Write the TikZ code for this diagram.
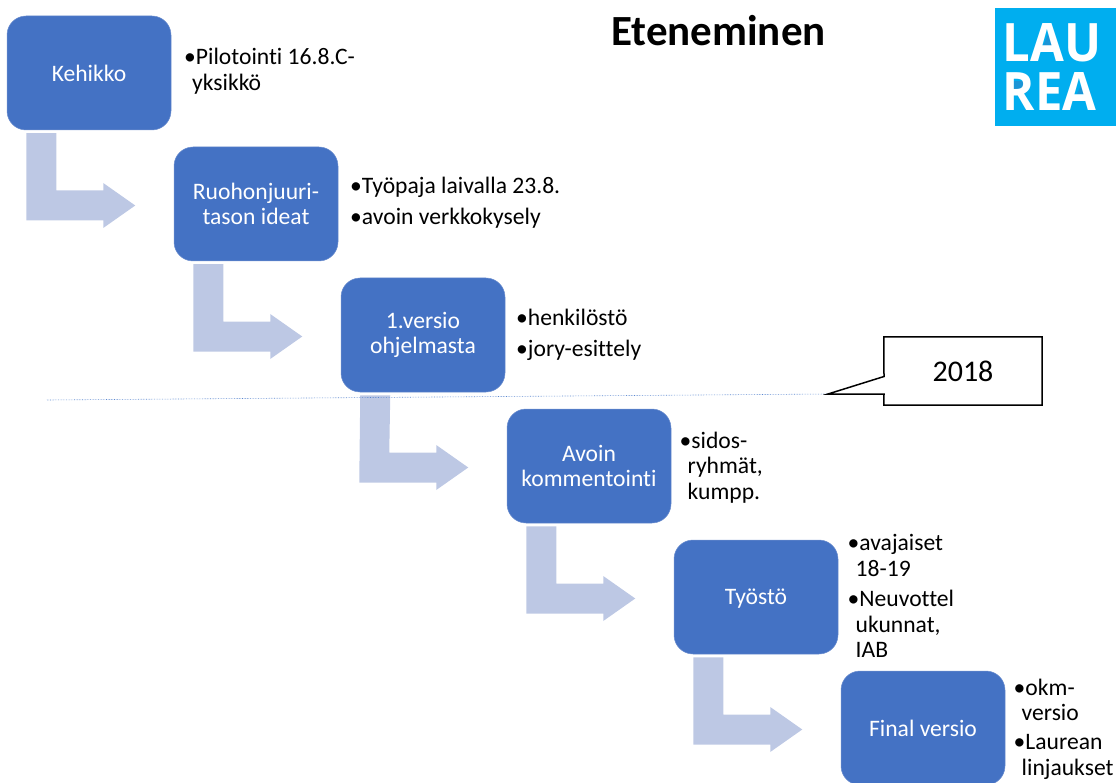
\documentclass[tikz,border=0pt]{standalone}
\usepackage{fontspec}
\setmainfont{Carlito}[Ligatures=NoCommon]
\newfontfamily\logofont{Open Sans}
\definecolor{boxblue}{HTML}{4472C4}
\definecolor{boxedge}{HTML}{6F90CF}
\definecolor{arrowblue}{HTML}{BDC8E4}
\definecolor{laurea}{HTML}{00AEEF}
\definecolor{laureadark}{HTML}{1C95D6}
\definecolor{linecol}{HTML}{5B87D0}
\tikzset{
  stepbox/.style={rectangle,rounded corners=19pt,fill=boxblue,draw=boxedge,line width=0.5pt,minimum width=164pt,minimum height=114pt,inner sep=0pt,text=white,align=center,font=\fontsize{23.6}{25.5}\selectfont},
  note/.style={anchor=north west,inner sep=0pt,align=left,text=black,font=\fontsize{23.6}{25.5}\selectfont},
  bentarrow/.style={fill=arrowblue,draw=none},
  logotext/.style={inner sep=0pt,anchor=base west,text=white,xscale=0.925,font=\fontsize{53}{53}\logofont\bfseries},
  calloutlabel/.style={inner sep=0pt,minimum width=158pt,minimum height=68pt,font=\fontsize{30}{32}\selectfont}
}
\newcommand{\bent}[2]{%
  \fill[bentarrow]
    ([shift={(19.5,3)}]#1.south west) -- ([shift={(49.5,3)}]#1.south west)
    -- ([shift={(-117.5,-13.5)}]#2.west) -- ([shift={(-70.5,-13.5)}]#2.west)
    -- ([shift={(-70.5,-21)}]#2.west) -- ([shift={(-38.5,1.5)}]#2.west)
    -- ([shift={(-70.5,24)}]#2.west) -- ([shift={(-70.5,16.5)}]#2.west)
    -- ([shift={(-147.5,16.5)}]#2.west) -- cycle;}
\newcommand{\hg}{\hspace*{8pt}}
\begin{document}
\begin{tikzpicture}[x=1pt,y=-1pt]
\useasboundingbox (0,0) rectangle (1118,783);
\clip (0,0) rectangle (1118,783);
\node[stepbox] (a) at (89,73) {Kehikko};
\node[stepbox] (b) at (256,204) {Ruohonjuuri-\\tason ideat};
\node[stepbox] (c) at (423,335) {1.versio\\ohjelmasta};
\node[stepbox] (d) at (589,466) {Avoin\\kommentointi};
\node[stepbox] (e) at (756,597) {\raisebox{0pt}[\height][0pt]{Työstö}};
\node[stepbox] (f) at (923,728) {Final versio};
\bent{a}{b}
\bent{b}{c}
\bent{c}{d}
\bent{d}{e}
\bent{e}{f}
\node[anchor=center,inner sep=0pt,font=\fontsize{43}{46}\selectfont\bfseries] (title) at (718.5,31) {Eteneminen};
\node[note] (n1) at (184,48) {•Pilotointi 16.8.C-\\\hg yksikkö};
\node[note] (n2a) at (350,177) {•Työpaja laivalla 23.8.};
\node[note] (n2b) at (350,208) {•avoin verkkokysely};
\node[note] (n3a) at (516,308.5) {•henkilöstö};
\node[note] (n3b) at (516,339.5) {•jory-esittely};
\node[note] (n4) at (679.5,431.5) {•sidos-\\\hg ryhmät,\\\hg kumpp.};
\node[note] (n5a) at (847.5,534.5) {•avajaiset\\\hg 18-19};
\node[note] (n5b) at (847.5,590) {•Neuvottel\\\hg ukunnat,\\\hg IAB};
\node[note] (n6a) at (1013.5,678.5) {•okm-\\\hg versio};
\node[note] (n6b) at (1013.5,734.5) {•Laurean\\\hg linjaukset};
\coordinate (linestart) at (47,400);
\coordinate (callouttip) at (828,394);
\draw[linecol,line width=0.6pt,densely dotted] (linestart) -- (callouttip);
\node[calloutlabel] (cal) at (963,371) {};
\draw[black,line width=1.5pt,fill=white,line join=miter]
  (cal.north west) -- (cal.north east) -- (cal.south east) -- (cal.south west)
  -- (884,394) -- (callouttip) -- (884,376.5) -- cycle;
\node[calloutlabel] (callabel) at (963,371) {2018};
\fill[laurea] (995,8) rectangle (1116,126);
\fill[laureadark] (1043,46) -- (1050,30) -- (1057,46) -- cycle;
\fill[laureadark] (1014,81) rectangle (1027,93);
\fill[laureadark] (1077,94) -- (1084,79) -- (1091,94) -- cycle;
\node[logotext] (lau) at (1002.5,62) {LAU};
\node[logotext] (rea) at (1002.5,110.5) {REA};
\end{tikzpicture}
\end{document}
